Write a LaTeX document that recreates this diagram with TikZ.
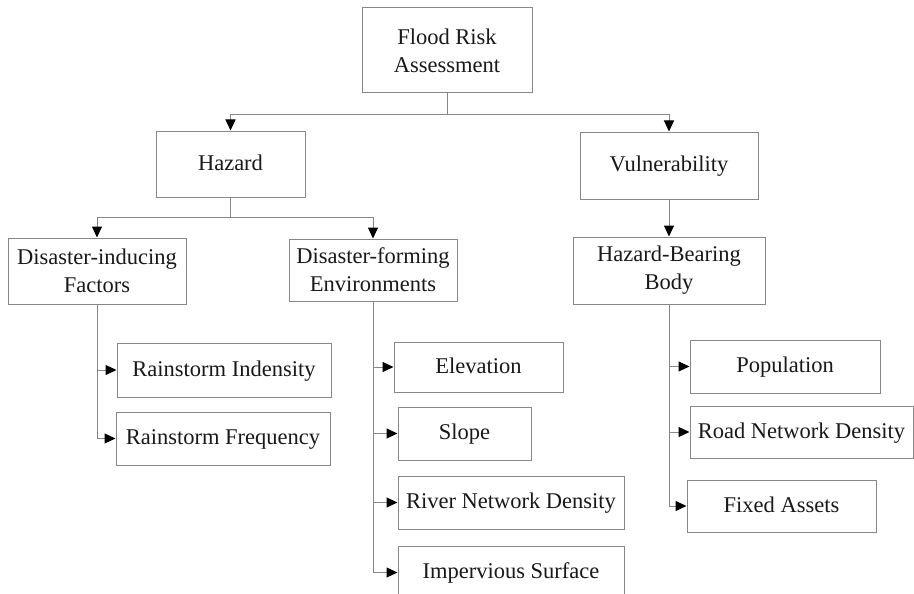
\documentclass[tikz,border=0pt]{standalone}
\usepackage{fontspec}
\setmainfont{Liberation Serif}
\usetikzlibrary{arrows.meta}
\definecolor{linegray}{RGB}{135,135,135}
\definecolor{txt}{RGB}{25,25,25}
\begin{document}
\begin{tikzpicture}[x=1pt,y=-1pt,
  box/.style={draw=linegray, line width=1pt, text=txt, align=center, inner sep=0pt,
    font=\fontsize{22.5}{28}\selectfont},
  oneline/.style={box, text height=15.5pt, text depth=3pt},
  conn/.style={draw=linegray, line width=1pt, -{Triangle[length=11pt,width=10pt,color=black]}},
  plain/.style={draw=linegray, line width=1pt}]
\useasboundingbox (0,0) rectangle (914,594);
\fill[white] (0,0) rectangle (914,594);
% nodes
\node[box, minimum width=170pt, minimum height=85pt] (fra) at (447,50.5) {Flood Risk\\Assessment};
\node[oneline, minimum width=149pt, minimum height=66pt] (haz) at (230.5,164) {Hazard};
\node[oneline, minimum width=178pt, minimum height=67pt] (vul) at (669,165.5) {Vulnerability};
\node[box, minimum width=178pt, minimum height=66pt] (dif) at (97,271) {Disaster-inducing\\Factors};
\node[box, minimum width=168pt, minimum height=62pt] (dfe) at (373,270) {Disaster-forming\\Environments};
\node[box, minimum width=192pt, minimum height=67pt] (hbb) at (669,270.5) {Hazard-Bearing\\Body};
\node[oneline, minimum width=214pt, minimum height=54pt] (ri) at (224,370) {Rainstorm Indensity};
\node[oneline, minimum width=214pt, minimum height=53pt] (rf) at (223,438.5) {Rainstorm Frequency};
\node[oneline, minimum width=169pt, minimum height=50pt] (el) at (478.5,367) {Elevation};
\node[oneline, minimum width=133pt, minimum height=53pt] (sl) at (464.5,433.5) {Slope};
\node[oneline, minimum width=226pt, minimum height=53pt] (rnd) at (511,502.5) {River Network Density};
\node[oneline, minimum width=226pt, minimum height=53pt] (is) at (511,572.5) {Impervious Surface};
\node[oneline, minimum width=190pt, minimum height=53pt] (pop) at (785,366.5) {Population};
\node[oneline, minimum width=223pt, minimum height=52pt] (road) at (801.5,432) {Road Network Density};
\node[oneline, minimum width=189pt, minimum height=52pt] (fa) at (781.5,506) {Fixed Assets};
% connectors
\coordinate (j1) at ([yshift=-21pt]fra.south);
\draw[plain] (fra.south) -- (j1);
\draw[conn] (j1) -| (haz.north);
\draw[conn] (j1) -| (vul.north);
\coordinate (j2) at ([yshift=-20pt]haz.south);
\draw[plain] (haz.south) -- (j2);
\draw[conn] (j2) -| (dif.north);
\draw[conn] (j2) -| (dfe.north);
\draw[conn] (vul.south) -- (hbb.north);
\draw[conn] (dif.south) |- (ri.west);
\draw[conn] (dif.south) |- (rf.west);
\draw[conn] (dfe.south) |- (el.west);
\draw[conn] (dfe.south) |- (sl.west);
\draw[conn] (dfe.south) |- (rnd.west);
\draw[conn] (dfe.south) |- (is.west);
\draw[conn] (hbb.south) |- (pop.west);
\draw[conn] (hbb.south) |- (road.west);
\draw[conn] (hbb.south) |- (fa.west);
\end{tikzpicture}
\end{document}
